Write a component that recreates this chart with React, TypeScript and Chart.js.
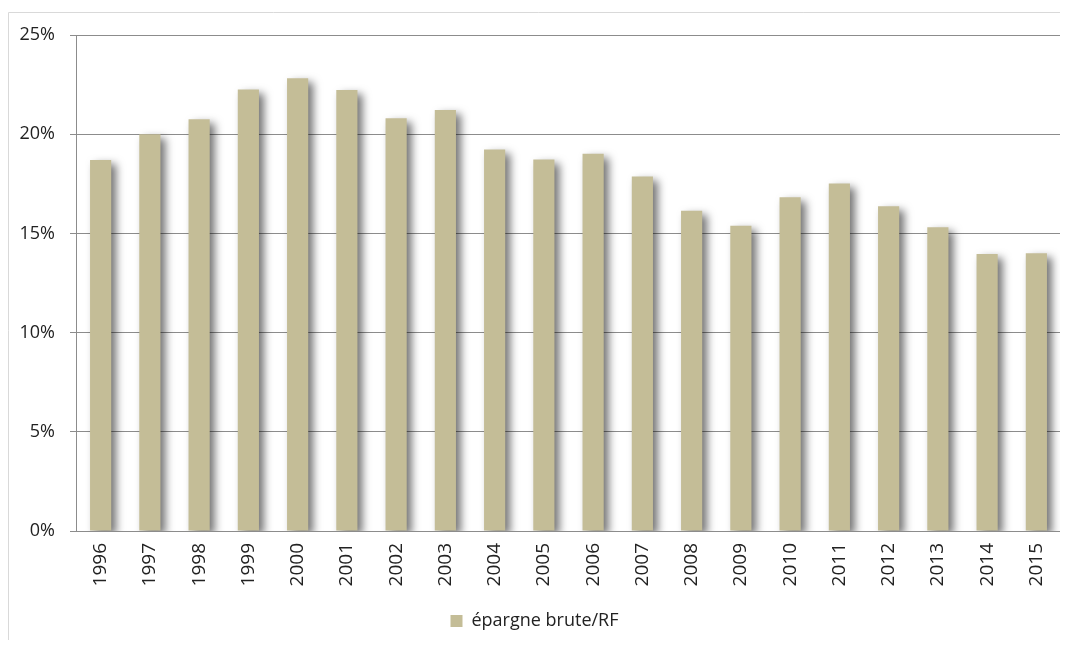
import React, { useEffect, useRef } from "react";
import { Chart, registerables } from "chart.js";

Chart.register(...registerables);

const years = ["1996","1997","1998","1999","2000","2001","2002","2003","2004","2005","2006","2007","2008","2009","2010","2011","2012","2013","2014","2015"];
const epargneBrute = [18.7, 20.0, 20.75, 22.25, 22.82, 22.23, 20.8, 21.22, 19.23, 18.72, 19.01, 17.87, 16.14, 15.38, 16.82, 17.51, 16.37, 15.31, 13.96, 14.0];
const seriesLabel = "épargne brute/RF";
const yTicks = [0, 5, 10, 15, 20, 25];

const shadowPlugin = {
  id: "barShadow",
  beforeDatasetDraw(chart: any) {
    const ctx = chart.ctx;
    ctx.save();
    ctx.shadowColor = "rgba(0,0,0,0.55)";
    ctx.shadowBlur = 8;
    ctx.shadowOffsetX = 5;
    ctx.shadowOffsetY = 4;
  },
  afterDatasetDraw(chart: any) {
    chart.ctx.restore();
  },
};

const frameBorder = {
  id: "frameBorder",
  beforeDraw(chart: any) {
    const ctx = chart.ctx;
    ctx.save();
    ctx.strokeStyle = "#d9d9d9";
    ctx.lineWidth = 1;
    ctx.beginPath();
    ctx.moveTo(0.5, chart.height);
    ctx.lineTo(0.5, 4.5);
    ctx.lineTo(chart.width, 4.5);
    ctx.stroke();
    ctx.restore();
  },
};

export default function App() {
  const ref = useRef<HTMLCanvasElement | null>(null);
  useEffect(() => {
    document.body.style.overflow = "hidden";
    const font = "'Open Sans', 'DejaVu Sans', sans-serif";
    const chart = new Chart(ref.current as HTMLCanvasElement, {
      type: "bar",
      data: {
        labels: years,
        datasets: [
          {
            label: seriesLabel,
            data: epargneBrute,
            backgroundColor: "#C4BD97",
            borderWidth: 0,
            barPercentage: 0.43,
            categoryPercentage: 1,
          },
        ],
      },
      plugins: [frameBorder, shadowPlugin],
      options: {
        animation: false,
        responsive: false,
        maintainAspectRatio: false,
        layout: { padding: { top: 27, left: 0, right: 7, bottom: 8 } },
        plugins: {
          tooltip: { enabled: false },
          legend: {
            position: "bottom",
            labels: {
              boxWidth: 12,
              boxHeight: 12,
              padding: 10,
              color: "#222222",
              font: { family: font, size: 18 },
            },
          },
        },
        scales: {
          x: {
            grid: { display: false, drawTicks: false },
            border: { display: true, color: "#8c8c8c", width: 1 },
            ticks: {
              color: "#222222",
              font: { family: font, size: 19 },
              minRotation: 90,
              maxRotation: 90,
              padding: 12,
              autoSkip: false,
            },
            afterFit(scale: any) {
              scale.height = 71;
              scale.paddingLeft = 0;
              scale.paddingRight = 0;
            },
          },
          y: {
            min: 0,
            max: 25,
            afterBuildTicks(scale: any) {
              scale.ticks = yTicks.map((v) => ({ value: v }));
            },
            grid: { color: "#8c8c8c", lineWidth: 1, tickLength: 6, drawTicks: true },
            border: { display: true, color: "#8c8c8c", width: 1 },
            ticks: {
              color: "#222222",
              font: { family: font, size: 18 },
              padding: 15,
              callback: (v: any) => v + "%",
            },
            afterFit(scale: any) {
              scale.width = 68;
              scale.paddingTop = 0;
              scale.paddingBottom = 0;
            },
          },
        },
      },
    });
    return () => chart.destroy();
  }, []);
  return (
    <div style={{ position: "relative", width: 1052, height: 632 }}>
      <canvas
        ref={ref}
        width={1060}
        height={640}
        style={{ position: "absolute", left: 0, top: 0, width: 1060, height: 640 }}
      />
    </div>
  );
}
